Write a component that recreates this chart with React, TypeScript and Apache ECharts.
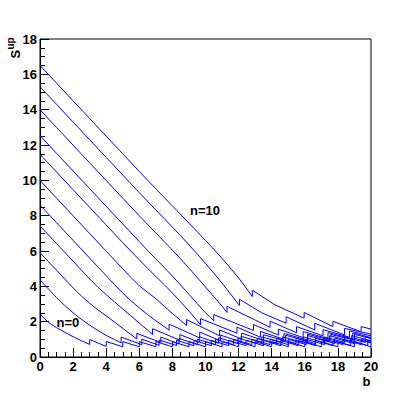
import React, { useEffect, useRef } from "react";
import * as echarts from "echarts";

// Upper limit S^up versus background b, for observed counts n = 0 ... 10
const curveN0: [number, number][] = [[0,2.44],[0.5,1.96],[1,1.66],[1.5,1.4],[2,1.15],[2.5,0.92],[3,0.71],[3,0.99],[4,0.6],[4,0.88],[5,0.58],[5,0.87],[6,0.58],[6,0.87],[7,0.58],[7,0.87],[8,0.58],[8,0.87],[9,0.58],[9,0.87],[10,0.58],[10,0.87],[11,0.58],[11,0.87],[12,0.58],[12,0.87],[13,0.58],[13,0.87],[14,0.58],[14,0.87],[15,0.58],[15,0.87],[16,0.58],[16,0.87],[17,0.58],[17,0.87],[18,0.58],[18,0.87],[19,0.58],[19,0.87],[20,0.58]];
const curveN1: [number, number][] = [[0,4.36],[0.5,3.86],[1,3.36],[1.5,2.91],[2,2.5],[2.5,2.13],[3,1.8],[3.5,1.5],[4,1.22],[4.5,0.99],[4.9,0.8],[4.9,1.13],[6.15,0.7],[6.15,1.01],[7.2,0.66],[7.2,0.96],[8.25,0.65],[8.25,0.95],[9.3,0.64],[9.3,0.94],[10.35,0.64],[10.35,0.94],[11.4,0.64],[11.4,0.94],[12.45,0.64],[12.45,0.94],[13.5,0.64],[13.5,0.94],[14.55,0.64],[14.55,0.94],[15.6,0.64],[15.6,0.94],[16.65,0.64],[16.65,0.94],[17.7,0.64],[17.7,0.94],[18.75,0.64],[18.75,0.94],[19.8,0.64],[19.8,0.94],[20,0.88]];
const curveN2: [number, number][] = [[0,5.91],[0.5,5.41],[1,4.91],[1.5,4.41],[2,3.91],[2.5,3.45],[3,3.04],[3.5,2.67],[4,2.33],[4.5,1.98],[5,1.62],[5.5,1.27],[5.85,1.02],[5.85,1.34],[7.3,0.82],[7.3,1.13],[8.4,0.74],[8.4,1.05],[9.5,0.71],[9.5,1.01],[10.6,0.7],[10.6,1.0],[11.7,0.7],[11.7,1.0],[12.8,0.7],[12.8,1.0],[13.9,0.7],[13.9,1.0],[15.0,0.7],[15.0,1.0],[16.1,0.7],[16.1,1.0],[17.2,0.7],[17.2,1.0],[18.3,0.7],[18.3,1.0],[19.4,0.7],[19.4,1.0],[20,0.84]];
const curveN3: [number, number][] = [[0,7.42],[1,6.42],[2,5.42],[3,4.42],[3.5,3.95],[4,3.53],[4.5,3.12],[5,2.72],[5.5,2.32],[6,1.92],[6.5,1.52],[6.8,1.27],[6.8,1.6],[8.45,0.95],[8.45,1.27],[9.62,0.83],[9.62,1.14],[10.79,0.78],[10.79,1.09],[11.96,0.76],[11.96,1.07],[13.13,0.76],[13.13,1.07],[14.3,0.76],[14.3,1.07],[15.47,0.76],[15.47,1.07],[16.64,0.76],[16.64,1.07],[17.81,0.76],[17.81,1.07],[18.98,0.76],[18.98,1.07],[20,0.79]];
const curveN4: [number, number][] = [[0,8.6],[1,7.6],[2,6.6],[3,5.6],[4,4.6],[4.5,4.1],[5,3.62],[5.5,3.18],[6,2.78],[6.5,2.4],[7,2.05],[7.5,1.72],[7.8,1.52],[7.8,1.86],[9.65,1.08],[9.65,1.41],[10.9,0.92],[10.9,1.24],[12.15,0.85],[12.15,1.17],[13.4,0.82],[13.4,1.14],[14.65,0.82],[14.65,1.14],[15.9,0.82],[15.9,1.14],[17.15,0.82],[17.15,1.14],[18.4,0.82],[18.4,1.14],[19.65,0.82],[19.65,1.14],[20,1.05]];
const curveN5: [number, number][] = [[0,9.99],[1,8.99],[2,7.99],[3,6.99],[4,5.99],[5,4.99],[5.5,4.5],[6,4.03],[6.5,3.66],[7,3.3],[7.5,2.88],[8,2.46],[8.5,2.07],[8.85,1.78],[8.85,2.12],[10.85,1.2],[10.85,1.53],[12.18,1.02],[12.18,1.35],[13.51,0.93],[13.51,1.26],[14.84,0.9],[14.84,1.23],[16.17,0.88],[16.17,1.21],[17.5,0.88],[17.5,1.21],[18.83,0.88],[18.83,1.21],[20,0.92]];
const curveN6: [number, number][] = [[0,11.47],[1,10.47],[2,9.47],[3,8.47],[4,7.47],[5,6.47],[6,5.5],[6.5,5.02],[7,4.56],[7.5,4.1],[8,3.62],[8.5,3.12],[9,2.6],[9.5,2.05],[9.7,1.82],[9.7,2.17],[11.9,1.35],[11.9,1.69],[13.32,1.12],[13.32,1.45],[14.74,1.0],[14.74,1.33],[16.16,0.96],[16.16,1.29],[17.58,0.95],[17.58,1.28],[19.0,0.95],[19.0,1.28],[20,1.05]];
const curveN7: [number, number][] = [[0,12.53],[1,11.53],[2,10.53],[3,9.53],[4,8.53],[5,7.53],[6,6.53],[6.5,6.03],[7,5.55],[7.5,5.07],[8,4.58],[8.5,4.07],[9,3.55],[9.5,3.02],[10,2.5],[10.5,2.05],[10.5,2.4],[12.9,1.5],[12.9,1.84],[14.4,1.24],[14.4,1.58],[15.9,1.1],[15.9,1.44],[17.4,1.04],[17.4,1.38],[18.9,1.02],[18.9,1.36],[20,1.1]];
const curveN8: [number, number][] = [[0,13.99],[1,12.99],[2,11.99],[3,10.99],[4,9.99],[5,8.99],[6,7.99],[7,7.02],[7.5,6.54],[8,6.05],[8.5,5.55],[9,5.03],[9.5,4.5],[10,3.96],[10.5,3.42],[11,2.88],[11.3,2.52],[11.3,2.87],[13.9,1.68],[13.9,2.03],[15.5,1.37],[15.5,1.72],[17.1,1.2],[17.1,1.55],[18.7,1.12],[18.7,1.47],[20,1.2]];
const curveN9: [number, number][] = [[0,15.3],[1,14.3],[2,13.3],[3,12.3],[4,11.3],[5,10.3],[6,9.3],[7,8.32],[7.5,7.84],[8,7.35],[8.5,6.86],[9,6.35],[9.5,5.83],[10,5.3],[10.5,4.75],[11,4.18],[11.5,3.58],[12.05,2.92],[12.05,3.27],[13.4,2.5],[14.87,1.91],[14.87,2.28],[16.6,1.53],[16.6,1.91],[18.4,1.25],[18.4,1.62],[20,1.3]];
const curveN10: [number, number][] = [[0,16.5],[1,15.5],[2,14.5],[3,13.5],[4,12.5],[5,11.5],[6,10.5],[7,9.52],[8,8.55],[9,7.58],[10,6.6],[10.5,6.1],[11,5.58],[11.5,5.04],[12,4.47],[12.5,3.85],[12.83,3.42],[12.83,3.78],[14.2,2.95],[15.96,2.2],[15.96,2.52],[17.7,1.72],[17.7,2.02],[19.4,1.43],[19.4,1.72],[20,1.58]];

const curves = [curveN0, curveN1, curveN2, curveN3, curveN4, curveN5, curveN6, curveN7, curveN8, curveN9, curveN10];
const curveNames = ["n=0", "n=1", "n=2", "n=3", "n=4", "n=5", "n=6", "n=7", "n=8", "n=9", "n=10"];

const xRange = [0, 20];
const yRange = [0, 18];
const xTitle = "b";
const yTitleMain = "S";
const yTitleSup = "up";
const labelLow = "n=0";
const labelHigh = "n=10";

const FONT = "'Liberation Sans', Arial, Helvetica, sans-serif";

export default function App() {
  const ref = useRef<HTMLDivElement>(null);
  useEffect(() => {
    if (!ref.current) return;
    const chart = echarts.init(ref.current, undefined, { renderer: "svg" });
    const axisLabelStyle = { color: "#000", fontFamily: FONT, fontWeight: "bold" as const, fontSize: 13 };
    chart.setOption({
      animation: false,
      backgroundColor: "#fff",
      grid: { left: 40, right: 40, top: 39, bottom: 40, show: true, borderColor: "#000", borderWidth: 1, backgroundColor: "transparent" },
      xAxis: {
        type: "value", min: xRange[0], max: xRange[1], interval: 2,
        axisLine: { show: true, lineStyle: { color: "#000", width: 1 } },
        axisTick: { show: true, inside: true, length: 9, lineStyle: { color: "#000" } },
        minorTick: { show: true, splitNumber: 4, length: 5, lineStyle: { color: "#000" } },
        splitLine: { show: false },
        axisLabel: { ...axisLabelStyle, margin: 3 },
      },
      yAxis: {
        type: "value", min: yRange[0], max: yRange[1], interval: 2,
        axisLine: { show: true, lineStyle: { color: "#000", width: 1 } },
        axisTick: { show: true, inside: true, length: 9, lineStyle: { color: "#000" } },
        minorTick: { show: true, splitNumber: 4, length: 5, lineStyle: { color: "#000" } },
        splitLine: { show: false },
        axisLabel: { ...axisLabelStyle, margin: 3 },
      },
      series: curves.map((c, i) => ({
        name: curveNames[i],
        type: "line",
        data: c,
        showSymbol: false,
        symbol: "none",
        silent: true,
        lineStyle: { color: "#0000ff", width: 1 },
        z: 3,
      })),
      graphic: [
        { type: "text", x: 15.5, y: 58.5, rotation: Math.PI / 2, style: { text: yTitleMain, font: `bold 13px ${FONT}`, fill: "#000", textAlign: "left", textVerticalAlign: "middle" } },
        { type: "text", x: 10, y: 49.5, rotation: Math.PI / 2, style: { text: yTitleSup, font: `bold 10px ${FONT}`, fill: "#000", textAlign: "left", textVerticalAlign: "middle" } },
        { type: "text", x: 370.5, y: 381, style: { text: xTitle, font: `bold 13px ${FONT}`, fill: "#000", textAlign: "right", textVerticalAlign: "middle" } },
        { type: "text", x: 56.5, y: 322, style: { text: labelLow, font: `bold 13px ${FONT}`, fill: "#000", textAlign: "left", textVerticalAlign: "middle" } },
        { type: "text", x: 190, y: 210.5, style: { text: labelHigh, font: `bold 13px ${FONT}`, fill: "#000", textAlign: "left", textVerticalAlign: "middle" } },
      ],
    });
    return () => chart.dispose();
  }, []);
  return <div ref={ref} style={{ position: "absolute", left: 0, top: 0, width: 411, height: 397 }} />;
}
